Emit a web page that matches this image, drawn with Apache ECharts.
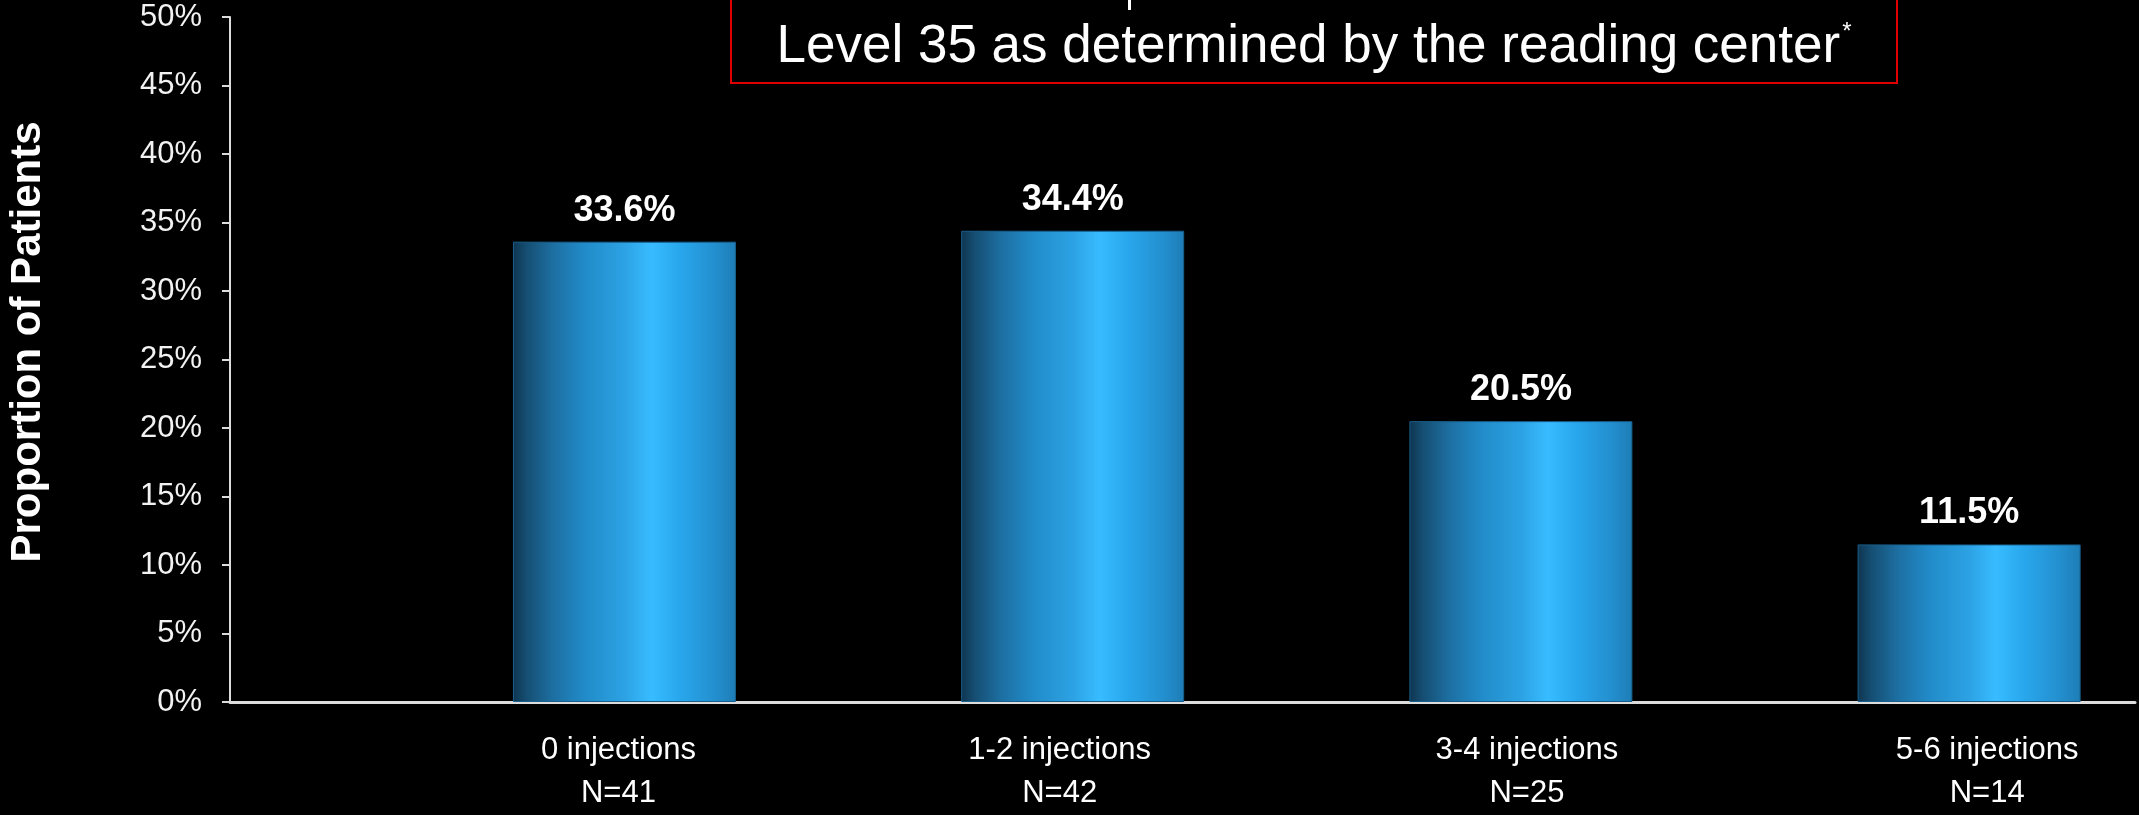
<!DOCTYPE html>
<html>
<head>
<meta charset="utf-8">
<title>Proportion of Patients by Injection Count</title>
<script src="https://cdn.jsdelivr.net/npm/echarts@6/dist/echarts.min.js"></script>
<style>
  html, body { margin: 0; padding: 0; background: #000; }
  #chart { width: 2139px; height: 815px; }
</style>
</head>
<body>
<div id="chart"></div>
<script>
// Injection groups, their sample sizes and the share of patients in each
var categories = ['0 injections', '1-2 injections', '3-4 injections', '5-6 injections'];
var sampleSizes = [41, 42, 25, 14];
var proportions = [33.6, 34.4, 20.5, 11.5];

// Percentage axis
var yMin = 0;
var yMax = 50;
var yStep = 5;

// Position of each group along the horizontal axis (group index)
var groupIndex = [0, 1, 2, 3];

// Small horizontal nudges (px) of the group captions under the axis
var captionNudge = [-6, -13, 6, 18];

var FONT = '"Liberation Sans", Arial, Helvetica, sans-serif';

var chart = echarts.init(document.getElementById('chart'), null, { renderer: 'canvas' });

var barGradient = new echarts.graphic.LinearGradient(0, 0, 1, 0, [
  { offset: 0.00, color: '#0f3550' },
  { offset: 0.06, color: '#154e72' },
  { offset: 0.18, color: '#1d6fa2' },
  { offset: 0.32, color: '#218bc8' },
  { offset: 0.50, color: '#2ca2e4' },
  { offset: 0.62, color: '#38bcff' },
  { offset: 0.74, color: '#29a8ee' },
  { offset: 0.90, color: '#2390d0' },
  { offset: 1.00, color: '#1e7db6' }
]);

// One rich style per caption so each can carry its own nudge
var captionRich = {};
captionNudge.forEach(function (s, i) {
  captionRich['c' + i] = {
    color: '#ffffff',
    fontFamily: FONT,
    fontSize: 31,
    lineHeight: 43,
    padding: s >= 0 ? [0, 0, 0, 2 * s] : [0, -2 * s, 0, 0]
  };
});

var option = {
  backgroundColor: '#000000',
  animation: false,
  textStyle: { fontFamily: FONT },
  grid: {
    left: 230,
    right: 4,
    top: 17,
    bottom: 113,
    containLabel: false
  },
  xAxis: {
    type: 'value',
    min: -0.88,
    max: 3.37,
    splitLine: { show: false },
    axisLine: {
      show: true,
      onZero: false,
      lineStyle: { color: '#dcdcdc', width: 3 }
    },
    axisTick: { show: false },
    axisLabel: {
      show: true,
      customValues: groupIndex,
      margin: 27,
      color: '#ffffff',
      fontFamily: FONT,
      fontSize: 31,
      lineHeight: 43,
      align: 'center',
      rich: captionRich,
      formatter: function (v) {
        var i = Math.round(v);
        var tag = 'c' + i;
        return '{' + tag + '|' + categories[i] + '}\n{' + tag + '|N=' + sampleSizes[i] + '}';
      }
    }
  },
  yAxis: {
    type: 'value',
    min: yMin,
    max: yMax,
    interval: yStep,
    splitLine: { show: false },
    axisLine: {
      show: true,
      onZero: false,
      lineStyle: { color: '#dcdcdc', width: 2 }
    },
    axisTick: {
      show: true,
      inside: false,
      length: 8,
      lineStyle: { color: '#dcdcdc', width: 2 }
    },
    axisLabel: {
      margin: 28,
      color: '#f2f2f2',
      fontFamily: FONT,
      fontSize: 31,
      formatter: function (v) { return v + '%'; }
    }
  },
  series: [{
    type: 'bar',
    barWidth: 223,
    data: proportions.map(function (v, i) { return [groupIndex[i], v]; }),
    itemStyle: {
      color: barGradient,
      borderColor: '#1a5f8c',
      borderWidth: 1
    },
    label: {
      show: true,
      position: 'top',
      distance: 13,
      color: '#ffffff',
      fontFamily: FONT,
      fontWeight: 'bold',
      fontSize: 36,
      formatter: function (p) { return p.value[1].toFixed(1) + '%'; }
    }
  }],
  graphic: [
    {
      type: 'text',
      x: 28,
      y: 342,
      rotation: Math.PI / 2,
      style: {
        text: 'Proportion of Patients',
        fill: '#ffffff',
        font: 'bold 42px ' + FONT,
        align: 'center',
        verticalAlign: 'middle'
      }
    },
    {
      type: 'rect',
      shape: { x: 731, y: -20, width: 1166, height: 103 },
      style: { fill: 'none', stroke: '#e00000', lineWidth: 2 }
    },
    {
      type: 'rect',
      shape: { x: 1128, y: 0, width: 3, height: 10 },
      style: { fill: '#ffffff' }
    },
    {
      type: 'text',
      x: 1314,
      y: 47,
      style: {
        text: '{m|Level 35 as determined by the reading center}{s|*}',
        align: 'center',
        verticalAlign: 'middle',
        rich: {
          m: { fill: '#ffffff', fontFamily: FONT, fontSize: 53 },
          s: { fill: '#ffffff', fontFamily: FONT, fontSize: 24, verticalAlign: 'top', padding: [0, 0, 18, 2] }
        }
      }
    }
  ]
};

chart.setOption(option);
</script>
</body>
</html>
